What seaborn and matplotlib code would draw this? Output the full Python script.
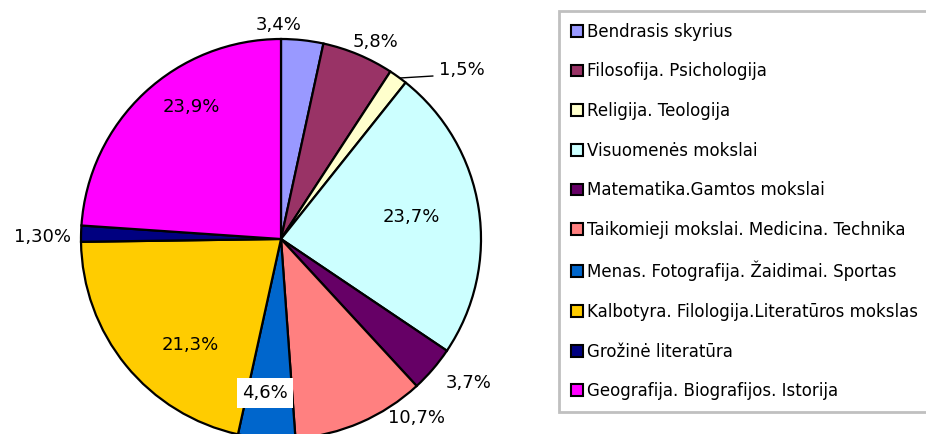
import matplotlib
matplotlib.use("Agg")
import matplotlib.pyplot as plt
import matplotlib.patches as mpatches
import seaborn as sns

categories = [
    "Bendrasis skyrius",
    "Filosofija. Psichologija",
    "Religija. Teologija",
    "Visuomenės mokslai",
    "Matematika.Gamtos mokslai",
    "Taikomieji mokslai. Medicina. Technika",
    "Menas. Fotografija. Žaidimai. Sportas",
    "Kalbotyra. Filologija.Literatūros mokslas",
    "Grožinė literatūra",
    "Geografija. Biografijos. Istorija",
]
values = [3.4, 5.8, 1.5, 23.7, 3.7, 10.7, 4.6, 21.3, 1.30, 23.9]
value_labels = ["3,4%", "5,8%", "1,5%", "23,7%", "3,7%", "10,7%", "4,6%", "21,3%", "1,30%", "23,9%"]
colors = ["#9999FF", "#993366", "#FFFFCC", "#CCFFFF", "#660066",
          "#FF8080", "#0066CC", "#FFCC00", "#000080", "#FF00FF"]

# layout (pixels of the 926x434 canvas)
W, H = 926, 434
CX, CY, R = 281, 239, 200
label_px = [(279, 25), (375, 42), (462, 70), (411, 217), (469, 383),
            (417, 418), (265, 393), (190, 345), (42, 237), (191, 107)]

sns.set_theme(style="white")
plt.rcParams["font.family"] = ["DejaVu Sans"]
plt.rcParams["text.color"] = "black"

fig = plt.figure(figsize=(W / 100, H / 100), dpi=100)
ax = fig.add_axes([0, 0, 1, 1])

wedges, _ = ax.pie(values, colors=colors, startangle=90, counterclock=False,
                   radius=1.0, wedgeprops=dict(edgecolor="black", linewidth=1.6))

ax.set_xlim(-CX / R, (W - CX) / R)
ax.set_ylim(-(H - CY) / R, CY / R)
ax.set_aspect("equal", adjustable="box")
ax.axis("off")

def to_data(px, py):
    return (px - CX) / R, (CY - py) / R

pie_fs = 13
for lab, (px, py) in zip(value_labels, label_px):
    x, y = to_data(px, py)
    kw = {}
    if lab == "4,6%":
        kw["bbox"] = dict(facecolor="white", edgecolor="none", pad=4)
    ax.text(x, y, lab, ha="center", va="center", fontsize=pie_fs, color="black", **kw)

# leader line for 1,5%
x0, y0 = to_data(400, 78)
x1, y1 = to_data(433, 76)
ax.plot([x0, x1], [y0, y1], color="black", linewidth=1.0)

leg_fs = 12
handles = [mpatches.Patch(facecolor=c, edgecolor="black", linewidth=1.5) for c in colors]
leg = fig.legend(handles, categories, loc="upper left",
                 bbox_to_anchor=(559 / W, 1 - 11 / H),
                 fontsize=leg_fs, frameon=True, fancybox=False,
                 edgecolor="#c0c0c0", framealpha=1, labelcolor="black",
                 handlelength=0.72, handleheight=0.72, handletextpad=0.25,
                 labelspacing=1.30, borderpad=0.7, borderaxespad=0)
leg.get_frame().set_linewidth(2)

fig.savefig("out.png", dpi=100)
